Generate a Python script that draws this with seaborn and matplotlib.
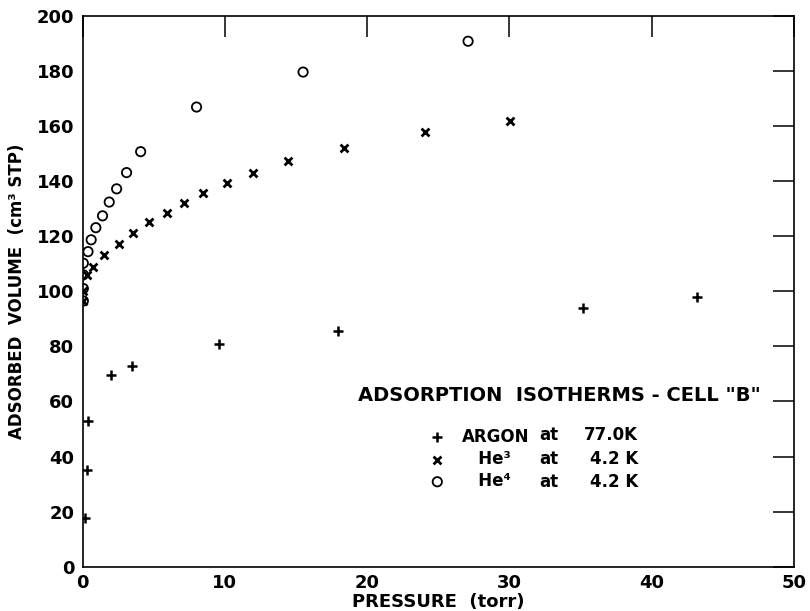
import matplotlib
matplotlib.use("Agg")
import matplotlib.pyplot as plt
import seaborn as sns
import pandas as pd

# Argon at 77.0 K
argon_p = [0.16, 0.33, 0.40, 1.97, 3.44, 9.56, 17.94, 35.18, 43.2]
argon_v = [17.6, 35.1, 53.0, 69.5, 72.7, 80.8, 85.6, 93.9, 98.1]

# He3 at 4.2 K
he3_p = [0.05, 0.05, 0.33, 0.70, 1.50, 2.53, 3.51, 4.66, 5.90, 7.12, 8.48,
         10.12, 12.0, 14.45, 18.41, 24.05, 30.08]
he3_v = [96.5, 100.0, 106.0, 109.0, 113.1, 117.1, 121.1, 125.0, 128.4, 132.0,
         135.6, 139.3, 143.1, 147.3, 152.2, 158.0, 162.0]

# He4 at 4.2 K
he4_p = [0.05, 0.05, 0.05, 0.05, 0.38, 0.60, 0.93, 1.40, 1.87, 2.39, 3.09,
         4.08, 8.01, 15.5, 27.1]
he4_v = [96.5, 101.0, 106.0, 110.2, 114.4, 118.7, 123.1, 127.4, 132.4, 137.2,
         143.1, 150.7, 166.9, 179.6, 190.8]

x_ticks = [0, 10, 20, 30, 40, 50]
y_ticks = [0, 20, 40, 60, 80, 100, 120, 140, 160, 180, 200]

legend_title = 'ADSORPTION  ISOTHERMS - CELL "B"'
names = ["ARGON", "   He³", "   He⁴"]
at_words = ["at", "at", "at"]
temps = ["77.0K", "4.2 K", "4.2 K"]

sns.set_theme(style="white")
plt.rcParams['font.family'] = ['DejaVu Sans']
plt.rcParams['text.color'] = 'black'
plt.rcParams['axes.labelcolor'] = 'black'
plt.rcParams['xtick.color'] = 'black'
plt.rcParams['ytick.color'] = 'black'

fig = plt.figure(figsize=(8.10, 6.11), dpi=100)
ax = fig.add_axes([0.102, 0.0725, 0.878, 0.9015])

df_ar = pd.DataFrame({"p": argon_p, "v": argon_v})
df_h3 = pd.DataFrame({"p": he3_p, "v": he3_v})
df_h4 = pd.DataFrame({"p": he4_p, "v": he4_v})

sns.scatterplot(data=df_ar, x="p", y="v", marker="+", s=45, color="black",
                linewidth=1.8, ax=ax, label=names[0])
sns.scatterplot(data=df_h3, x="p", y="v", marker="x", s=32, color="black",
                linewidth=2.0, ax=ax, label=names[1])
sns.scatterplot(data=df_h4, x="p", y="v", marker="o", s=45, facecolors="none",
                edgecolor="black", linewidth=1.3, ax=ax, label=names[2])

ax.set_xlim(0, 50)
ax.set_ylim(0, 200)
ax.set_xticks(x_ticks)
ax.set_yticks(y_ticks)
ax.set_xticklabels([str(t) for t in x_ticks], fontsize=13, fontweight="bold")
ax.set_yticklabels([str(t) for t in y_ticks], fontsize=13, fontweight="bold")
ax.tick_params(axis="both", direction="in", length=15, width=1.1, color="black",
               top=True, right=True)
ax.tick_params(axis="x", pad=5)
ax.tick_params(axis="y", pad=6)
for sp in ax.spines.values():
    sp.set_color("black")
    sp.set_linewidth(1.2)

ax.set_xlabel("PRESSURE  (torr)", fontsize=13, fontweight="bold", labelpad=1)
ax.set_ylabel("ADSORBED  VOLUME  (cm³ STP)", fontsize=12, fontweight="bold", labelpad=8)

leg = ax.legend(loc="center left", bbox_to_anchor=(0.487, 0.1956),
                frameon=False, prop={"weight": "bold", "size": 12},
                handlelength=1.0, handletextpad=0.95, labelspacing=0.25,
                borderpad=0, borderaxespad=0)

ax.text(0.387, 0.31, legend_title, transform=ax.transAxes, ha="left", va="center",
        fontsize=14, fontweight="bold")
row_y = [0.2392, 0.1956, 0.1538]
for yy, a, t in zip(row_y, at_words, temps):
    ax.text(0.6415, yy, a, transform=ax.transAxes, ha="left", va="center",
            fontsize=12, fontweight="bold")
    ax.text(0.7807, yy, t, transform=ax.transAxes, ha="right", va="center",
            fontsize=12, fontweight="bold")

fig.savefig("out.png", dpi=100)
